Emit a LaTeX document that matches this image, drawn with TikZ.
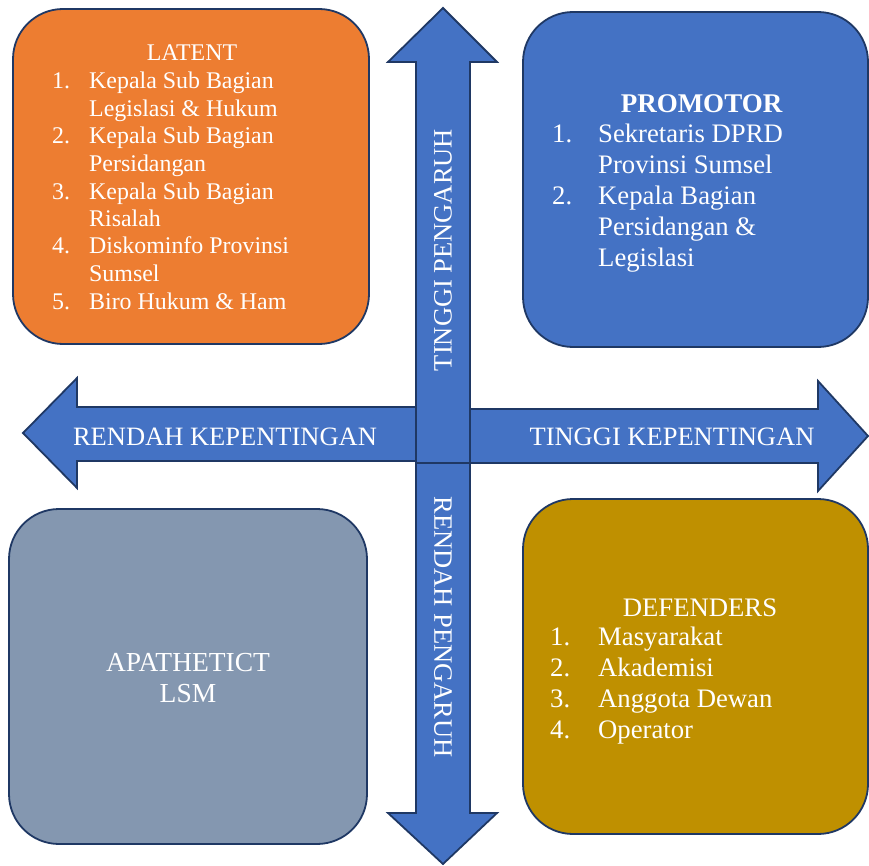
\documentclass[tikz,border=0pt]{standalone}
\usepackage{fontspec}
\setmainfont{Liberation Serif}
\definecolor{edgec}{HTML}{1F3864}
\definecolor{latentc}{HTML}{ED7D31}
\definecolor{promc}{HTML}{4472C4}
\definecolor{defc}{HTML}{BF9000}
\definecolor{apac}{HTML}{8497B0}
\definecolor{arrowc}{HTML}{4472C4}
\newcommand{\nitem}[3]{\makebox[#1][l]{#2}#3}
\begin{document}
\begin{tikzpicture}[x=1pt,y=-1pt,
  quad/.style={rectangle, draw=edgec, line width=1.8pt, rounded corners=50pt, inner sep=0pt},
  bigarrow/.style={draw=edgec, line width=1.8pt, fill=arrowc, line join=miter},
  lbl/.style={text=white, inner sep=0pt, font=\fontsize{26.5}{30}\selectfont},
  small/.style={text=white, inner sep=0pt, font=\fontsize{23.9}{27.5}\selectfont},
  big/.style={text=white, inner sep=0pt, font=\fontsize{26.7}{31}\selectfont},
  bigger/.style={text=white, inner sep=0pt, font=\fontsize{27.5}{31}\selectfont}]
\useasboundingbox (0,0) rectangle (869,866);
\fill[white] (0,0) rectangle (869,866);

% quadrant boxes
\node[quad, fill=latentc, minimum width=356pt, minimum height=335pt] (latent) at (191,176.5) {};
\node[quad, fill=promc, minimum width=345pt, minimum height=335pt] (promotor) at (695.5,179.5) {};
\node[quad, fill=defc, minimum width=345pt, minimum height=335pt] (defenders) at (695.5,666.5) {};
\node[quad, fill=apac, minimum width=358pt, minimum height=335pt] (apathetic) at (188,676.5) {};

% arrows
\draw[bigarrow] (416,407) -- (77,407) -- (77,378) -- (23,433) -- (77,488) -- (77,461) -- (416,461) -- cycle;
\draw[bigarrow] (470,409) -- (818,409) -- (818,381) -- (868,436) -- (818,491) -- (818,463) -- (470,463) -- cycle;
\draw[bigarrow] (416,463) -- (416,813) -- (388,813) -- (443,864) -- (497,813) -- (470,813) -- (470,463) -- cycle;
\draw[bigarrow] (416,463) -- (416,62) -- (388,62) -- (443,8) -- (497,62) -- (470,62) -- (470,463) -- cycle;

% arrow labels
\node[lbl, anchor=base] (lowint) at (225,445) {RENDAH KEPENTINGAN};
\node[lbl, anchor=base] (highint) at (672,445) {TINGGI KEPENTINGAN};
\node[lbl, rotate=90] (highinf) at (443,250) {TINGGI PENGARUH};
\node[lbl, rotate=-90] (lowinf) at (443,627) {RENDAH PENGARUH};

% LATENT
\node[small, anchor=base] (latentT) at (192,61) {LATENT};
\node[small, anchor=base west, align=left] (latentL) at (52,309) {%
\nitem{37pt}{1.}{Kepala Sub Bagian}\\
\hspace*{37pt}Legislasi \& Hukum\\
\nitem{37pt}{2.}{Kepala Sub Bagian}\\
\hspace*{37pt}Persidangan\\
\nitem{37pt}{3.}{Kepala Sub Bagian}\\
\hspace*{37pt}Risalah\\
\nitem{37pt}{4.}{Diskominfo Provinsi}\\
\hspace*{37pt}Sumsel\\
\nitem{37pt}{5.}{Biro Hukum \& Ham}};

% PROMOTOR
\node[big, anchor=base, font=\fontsize{27}{31}\selectfont\bfseries] (promT) at (701.5,113) {PROMOTOR};
\node[big, anchor=base west, align=left] (promL) at (552,267) {%
\nitem{46pt}{1.}{Sekretaris DPRD}\\
\hspace*{46pt}Provinsi Sumsel\\
\nitem{46pt}{2.}{Kepala Bagian}\\
\hspace*{46pt}Persidangan \&\\
\hspace*{46pt}Legislasi};

% DEFENDERS
\node[big, anchor=base] (defT) at (700,616) {DEFENDERS};
\node[big, anchor=base west, align=left] (defL) at (550,738) {%
\nitem{48pt}{1.}{Masyarakat}\\
\nitem{48pt}{2.}{Akademisi}\\
\nitem{48pt}{3.}{Anggota Dewan}\\
\nitem{48pt}{4.}{Operator}};

% APATHETICT
\node[bigger, anchor=base] (apaT) at (188,671) {APATHETICT};
\node[bigger, anchor=base] (apaL) at (188,702) {LSM};
\end{tikzpicture}
\end{document}
